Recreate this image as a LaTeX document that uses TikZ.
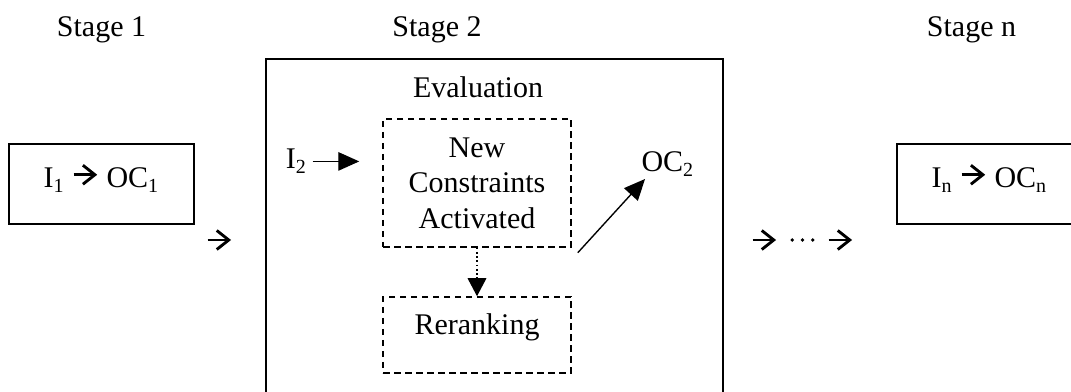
\documentclass[tikz,border=0pt]{standalone}
\usepackage{fontspec}
\setmainfont{Liberation Serif}
\usetikzlibrary{arrows.meta}

% small arrow and dot set inside the text
\newcommand{\arr}{\tikz[baseline=-5.2pt]\draw[line width=1.15pt,-{Straight Barb[length=4.8pt,width=7.6pt]}] (0,0)--(9.4pt,0);}
\newcommand{\middot}{\tikz[baseline=-5.2pt]\fill (0,0) circle (0.75pt);}

\begin{document}
\begin{tikzpicture}[x=0.4pt,y=0.4pt,
	font=\fontsize{12pt}{14.2pt}\selectfont,
	stagebox/.style={draw,line width=0.6pt,minimum width=74pt,minimum height=32pt,text height=8pt,text depth=5pt,inner sep=0pt},
	evalbox/.style={draw,line width=0.8pt,minimum width=182.8pt,minimum height=150pt},
	dashbox/.style={draw,line width=0.6pt,dash pattern=on 2.6pt off 1.8pt,minimum width=75.2pt,align=center,inner sep=0pt},
	txt/.style={inner sep=0pt,anchor=base},
	solidarrow/.style={line width=0.55pt,-{Triangle[length=8.4pt,width=7.4pt]}},
	dotarrow/.style={line width=0.7pt,densely dotted,-{Triangle[length=7.2pt,width=7.4pt]}}
	]
	\useasboundingbox (0,0) rectangle (1071,392);
	\clip (0,0) rectangle (1071,392);

	%STAGE TITLES
	\node[txt] (st1) at (101.5,355) {Stage 1};
	\node[txt] (st2) at (437,355) {Stage 2};
	\node[txt] (stn) at (971.5,355) {Stage n};

	%FIRST AND LAST STAGE
	\node[stagebox] (box1) at (101.5,208) {I\textsubscript{1}\hspace{3pt}\arr\ OC\textsubscript{1}};
	\node[stagebox] (boxn) at (989.5,208) {I\textsubscript{n} \arr\ OC\textsubscript{n}};

	%ARROWS BETWEEN STAGES
	\node[txt] (go1) at (219.5,139) {\arr};
	\node[txt] (more) at (802.5,139) {\arr\hspace{5pt}\middot\hspace{2.6pt}\middot\hspace{2.6pt}\middot\hspace{5pt}\arr};

	%STAGE 2
	\node[evalbox] (eval) at (494.5,145.5) {};
	\node[txt] (evtitle) at (478,294) {Evaluation};
	\node[dashbox,minimum height=51.2pt] (ncbox) at (477,209) {New\\Constraints\\Activated};
	\node[dashbox,minimum height=30.4pt,text height=1.5ex,text depth=1.5ex] (rrbox) at (477,57) {Reranking};
	\node[txt] (i2) at (296.5,223) {I\textsubscript{2}};
	\node[txt] (oc2) at (668,220) {OC\textsubscript{2}};

	\draw[solidarrow,shorten <=2pt,shorten >=9.2pt] (i2.east) -- (i2.east -| ncbox.west);	%input
	\draw[dotarrow] (ncbox) -- (rrbox);	%reranking step
	\draw[solidarrow] ([shift={(6,-5)}]ncbox.south east) -- ([shift={(4,-2)}]oc2.south west);	%output
\end{tikzpicture}
\end{document}
